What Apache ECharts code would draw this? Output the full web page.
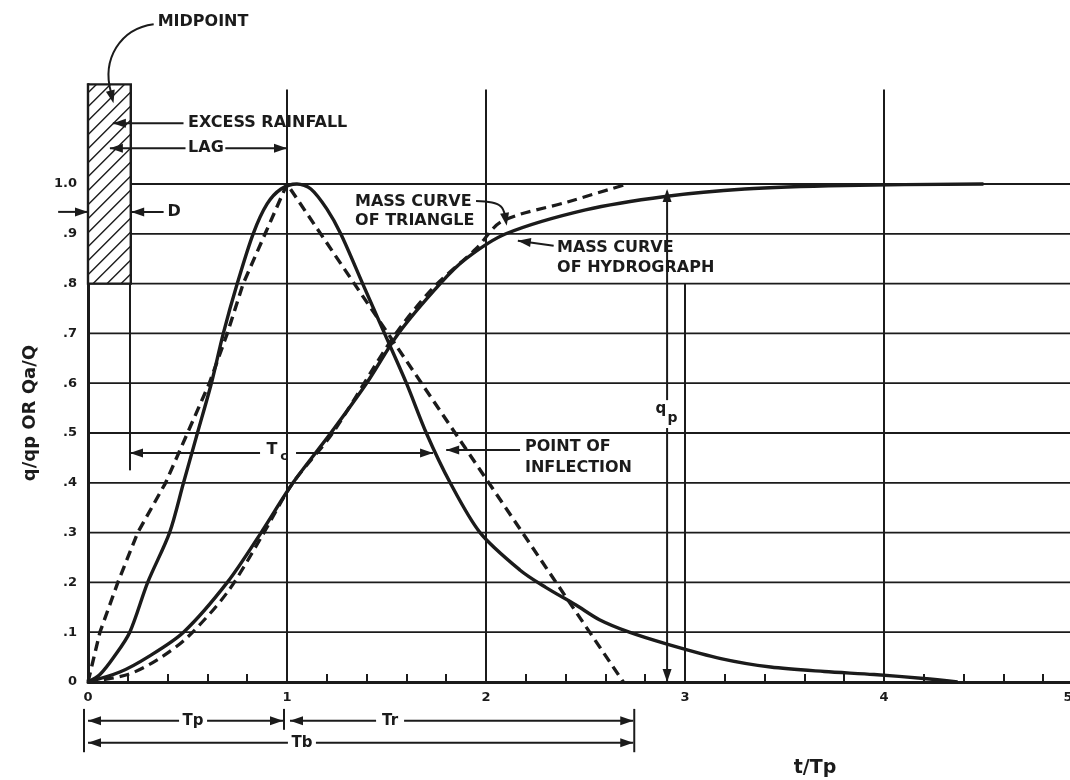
<!DOCTYPE html>
<html>
<head>
<meta charset="utf-8">
<script src="https://cdn.jsdelivr.net/npm/echarts@6/dist/echarts.min.js"></script>
<style>html,body{margin:0;padding:0;background:#fff}#c{width:1070px;height:780px}</style>
</head>
<body>
<div id="c"></div>
<script>
// ---------------- data ----------------
const xTickLabels = ['0', '1', '2', '3', '4', '5'];
const yTickLabels = ['0', '.1', '.2', '.3', '.4', '.5', '.6', '.7', '.8', '.9', '1.0'];

// dimensionless unit hydrograph  q/qp vs t/Tp (solid)
const hydroT = [0, 0.06, 0.13, 0.21, 0.3, 0.41, 0.48, 0.55, 0.62, 0.68, 0.75, 0.83, 0.9, 0.97, 1.05, 1.12, 1.2, 1.27, 1.38, 1.49, 1.6, 1.7, 1.82, 1.97, 2.17, 2.3, 2.45, 2.57, 2.72, 2.91, 3.18, 3.43, 3.7, 3.95, 4.2, 4.37];
const hydroQ = [0, 0.015, 0.05, 0.1, 0.2, 0.3, 0.4, 0.5, 0.6, 0.7, 0.8, 0.9, 0.96, 0.99, 1.0, 0.99, 0.95, 0.9, 0.8, 0.7, 0.6, 0.5, 0.4, 0.3, 0.225, 0.19, 0.155, 0.125, 0.1, 0.076, 0.047, 0.03, 0.021, 0.015, 0.007, 0];

// triangular unit hydrograph (dashed)
const triT = [0, 0.06, 0.15, 0.25, 0.39, 0.5, 0.61, 0.7, 0.78, 0.89, 1.0, 2.69];
const triQ = [0, 0.1, 0.2, 0.3, 0.4, 0.5, 0.6, 0.7, 0.8, 0.9, 1.0, 0];

// mass curve of hydrograph  Qa/Q (solid)
const massHT = [0, 0.16, 0.3, 0.48, 0.7, 0.87, 1.03, 1.22, 1.4, 1.56, 1.77, 1.9, 2.1, 2.5, 2.9, 3.3, 3.8, 4.5];
const massHQ = [0, 0.02, 0.05, 0.1, 0.2, 0.3, 0.4, 0.5, 0.6, 0.7, 0.8, 0.85, 0.9, 0.948, 0.975, 0.99, 0.997, 1.0];

// mass curve of triangle (dashed)
const massTT = [0, 0.2, 0.35, 0.5, 0.7, 0.87, 1.03, 1.23, 1.53, 1.73, 1.95, 2.08, 2.41, 2.71];
const massTQ = [0, 0.015, 0.045, 0.09, 0.18, 0.29, 0.4, 0.5, 0.69, 0.79, 0.87, 0.925, 0.964, 1.0];

// excess rainfall block: [tStart, tEnd, qBottom, qTop]
const rainfallBar = [[0, 0.215, 0.8, 1.2]];

// grid lines (values on the axes)
const hGridLevels = [0.1, 0.2, 0.3, 0.4, 0.5, 0.6, 0.7, 0.8, 0.9, 1.0];
const vGridLevels = [1, 2, 3, 4];

// ---------------- styling ----------------
const INK = '#1b1b1b';
const FONT = '"DejaVu Sans", "Liberation Sans", sans-serif';
const pairs = (xs, ys) => xs.map((x, i) => [x, ys[i]]);

const chart = echarts.init(document.getElementById('c'), null, { renderer: 'canvas' });

const hGridData = hGridLevels.map(y => [y, y > 0.85 ? rainfallBar[0][1] : 0, 5]);
const vGridData = vGridLevels.map(x => [x, 0, x === 3 ? 0.8 : 1.19]);

const option = {
  backgroundColor: '#ffffff',
  animation: false,
  grid: { left: 88, top: 84.4, width: 995, height: 597.6, outerBoundsMode: 'none', containLabel: false },
  xAxis: {
    type: 'value', min: 0, max: 5, interval: 1,
    axisLine: { show: true, onZero: false, lineStyle: { color: INK, width: 3 } },
    axisTick: { show: true, inside: true, length: 8, lineStyle: { color: INK, width: 2 } },
    minorTick: { show: true, splitNumber: 5, length: 8, lineStyle: { color: INK, width: 2 } },
    splitLine: { show: false }, minorSplitLine: { show: false },
    axisLabel: { color: INK, fontFamily: FONT, fontWeight: 'bold', fontSize: 13, margin: 9, hideOverlap: false,
      formatter: v => { const s = xTickLabels[Math.round(v)] ?? ''; return Math.round(v) === 5 ? '{edge|' + s + '}' : s; },
      rich: { edge: { color: INK, fontFamily: FONT, fontWeight: 'bold', fontSize: 13, padding: [0, 30, 0, 0] } } }
  },
  yAxis: {
    type: 'value', min: 0, max: 1.2, interval: 0.1,
    axisLine: { show: true, lineStyle: { color: INK, width: 3 } },
    axisTick: { show: false }, splitLine: { show: false },
    axisLabel: { color: INK, fontFamily: FONT, fontWeight: 'bold', fontSize: 13, margin: 11,
      formatter: v => yTickLabels[Math.round(v * 10)] ?? '' }
  },
  series: [
    { // horizontal grid lines
      type: 'custom', z: 1, silent: true, data: hGridData, encode: { x: [1, 2], y: 0 },
      renderItem: (p, api) => {
        const a = api.coord([api.value(1), api.value(0)]), b = api.coord([api.value(2), api.value(0)]);
        return { type: 'line', shape: { x1: a[0], y1: a[1], x2: b[0], y2: b[1] }, style: { stroke: INK, lineWidth: 1.8 } };
      }
    },
    { // vertical grid lines
      type: 'custom', z: 1, silent: true, data: vGridData, encode: { x: 0, y: [1, 2] },
      renderItem: (p, api) => {
        const a = api.coord([api.value(0), api.value(1)]), b = api.coord([api.value(0), api.value(2)]);
        return { type: 'line', shape: { x1: a[0], y1: a[1], x2: b[0], y2: b[1] }, style: { stroke: INK, lineWidth: 2 } };
      }
    },
    { // excess rainfall hatched block
      type: 'custom', z: 3, silent: true, data: rainfallBar, encode: { x: [0, 1], y: [2, 3] },
      renderItem: (p, api) => {
        const tl = api.coord([api.value(0), api.value(3)]), br = api.coord([api.value(1), api.value(2)]);
        const L = tl[0], T = tl[1], R = br[0], B = br[1];
        const children = [{ type: 'rect', shape: { x: L, y: T, width: R - L, height: B - T },
          style: { fill: '#fff', stroke: INK, lineWidth: 2.4 } }];
        const step = 14;
        for (let c = T + step * 0.6; c < B + (R - L); c += step) {
          const xa = Math.max(L, L + c - B), xb = Math.min(R, L + c - T);
          if (xb <= xa) continue;
          children.push({ type: 'line', shape: { x1: xa, y1: c - (xa - L), x2: xb, y2: c - (xb - L) },
            style: { stroke: INK, lineWidth: 1.4 } });
        }
        return { type: 'group', children };
      }
    },
    { name: 'Hydrograph', type: 'line', z: 5, data: pairs(hydroT, hydroQ), smooth: 0.3, showSymbol: false, silent: true,
      lineStyle: { color: INK, width: 3.4 } },
    { name: 'Triangle', type: 'line', z: 5, data: pairs(triT, triQ), smooth: false, showSymbol: false, silent: true,
      lineStyle: { color: INK, width: 3.4, type: [10, 6] } },
    { name: 'Mass curve of hydrograph', type: 'line', z: 5, data: pairs(massHT, massHQ), smooth: 0.3, showSymbol: false, silent: true,
      lineStyle: { color: INK, width: 3.4 } },
    { name: 'Mass curve of triangle', type: 'line', z: 5, data: pairs(massTT, massTQ), smooth: 0.3, showSymbol: false, silent: true,
      lineStyle: { color: INK, width: 3.2, type: [10, 6] } }
  ]
};
chart.setOption(option);

// ---------------- annotations (anchored in data units) ----------------
const P = (t, q) => chart.convertToPixel({ xAxisIndex: 0, yAxisIndex: 0 }, [t, q]);
const G = [];
function segPx(a, b, w) { G.push({ type: 'line', silent: true, z: 50, shape: { x1: a[0], y1: a[1], x2: b[0], y2: b[1] }, style: { stroke: INK, lineWidth: w || 2 } }); }
function seg(d1, d2, w) { segPx(P(...d1), P(...d2), w); }
function headPx(tip, from, L, W) {
  L = L || 13; W = W || 4.5;
  const dx = tip[0] - from[0], dy = tip[1] - from[1], d = Math.hypot(dx, dy) || 1;
  const ux = dx / d, uy = dy / d, bx = tip[0] - ux * L, by = tip[1] - uy * L;
  G.push({ type: 'polygon', silent: true, z: 51, shape: { points: [tip, [bx - uy * W, by + ux * W], [bx + uy * W, by - ux * W]] }, style: { fill: INK } });
}
function head(tipD, fromD) { headPx(P(...tipD), P(...fromD)); }
function arrow(fromD, tipD) { seg(fromD, tipD); head(tipD, fromD); }
function text(d, str, size, align, rot) {
  const p = P(...d);
  G.push({ type: 'text', silent: true, z: 52, x: p[0], y: p[1], rotation: rot || 0,
    style: { text: str, fill: INK, font: `bold ${size || 16}px ${FONT}`,
      textAlign: align || 'left', textVerticalAlign: 'middle', align: align || 'left', verticalAlign: 'middle' } });
}
// dimension line with a gap for its label and heads at both ends
function dim(q, t0, t1, label, tl, gap, size) {
  const a = P(t0, q), b = P(t1, q), c = P(tl, q);
  segPx(a, [c[0] - gap, a[1]]); segPx([c[0] + gap, a[1]], b);
  headPx(a, [a[0] + 20, a[1]]); headPx(b, [b[0] - 20, b[1]]);
  if (label) text([tl, q], label, size || 15, 'center');
}

// MIDPOINT with curved leader
text([0.35, 1.325], 'MIDPOINT', 16);
{
  const s = P(0.33, 1.321), c1 = P(0.16, 1.312), c2 = P(0.07, 1.25), e = P(0.115, 1.185);
  G.push({ type: 'bezierCurve', silent: true, z: 50, shape: { x1: s[0], y1: s[1], cpx1: c1[0], cpy1: c1[1], cpx2: c2[0], cpy2: c2[1], x2: e[0], y2: e[1] }, style: { stroke: INK, lineWidth: 2, fill: null } });
  head([0.128, 1.162], [0.095, 1.215]);
}
// EXCESS RAINFALL
text([0.503, 1.122], 'EXCESS RAINFALL', 16);
arrow([0.48, 1.122], [0.125, 1.122]);
// LAG
seg([0.11, 1.072], [0.49, 1.072]); head([0.11, 1.072], [0.3, 1.072]);
text([0.503, 1.072], 'LAG', 16);
seg([0.69, 1.072], [1.0, 1.072]); head([1.0, 1.072], [0.8, 1.072]);
// D
arrow([-0.15, 0.944], [0.0, 0.944]);
arrow([0.38, 0.944], [0.217, 0.944]);
text([0.40, 0.944], 'D', 16);
// Tc
seg([0.211, 0.8], [0.211, 0.425]);
dim(0.46, 0.211, 1.734, null, 0.955, 18);
text([0.925, 0.466], 'T', 16, 'center');
text([0.985, 0.452], 'c', 13, 'center');
// point of inflection
text([2.196, 0.472], 'POINT OF', 16);
text([2.196, 0.43], 'INFLECTION', 16);
arrow([2.171, 0.466], [1.80, 0.466]);
// mass curve of triangle
text([1.342, 0.964], 'MASS CURVE', 16);
text([1.342, 0.926], 'OF TRIANGLE', 16);
{
  const pts = [P(1.95, 0.966), P(2.03, 0.963), P(2.075, 0.955), P(2.095, 0.938)];
  G.push({ type: 'polyline', silent: true, z: 50, shape: { points: pts, smooth: 0.4 }, style: { stroke: INK, lineWidth: 2, fill: null } });
  head([2.104, 0.916], [2.09, 0.95]);
}
// mass curve of hydrograph
text([2.357, 0.871], 'MASS CURVE', 16);
text([2.357, 0.831], 'OF HYDROGRAPH', 16);
arrow([2.34, 0.876], [2.16, 0.886]);
// qp
seg([2.91, 0.985], [2.91, 0.566]);
seg([2.91, 0.51], [2.91, 0.0]);
head([2.91, 0.0], [2.91, 0.1]);
head([2.91, 0.99], [2.91, 0.9]);
text([2.879, 0.548], 'q', 15, 'center');
text([2.937, 0.53], 'p', 14, 'center');
// bottom dimensions Tp / Tr / Tb
seg([-0.02, -0.054], [-0.02, -0.141]);
seg([0.985, -0.054], [0.985, -0.096]);
seg([2.745, -0.054], [2.745, -0.141]);
dim(-0.078, 0.0, 0.98, 'Tp', 0.528, 14);
dim(-0.078, 1.015, 2.74, 'Tr', 1.518, 14);
dim(-0.122, 0.0, 2.74, 'Tb', 1.075, 14);
// axis titles
text([3.653, -0.173], 't/Tp', 19, 'center');
text([-0.29, 0.54], 'q/qp OR Qa/Q', 18, 'center', Math.PI / 2);

chart.setOption({ graphic: { elements: G } });
</script>
</body>
</html>
